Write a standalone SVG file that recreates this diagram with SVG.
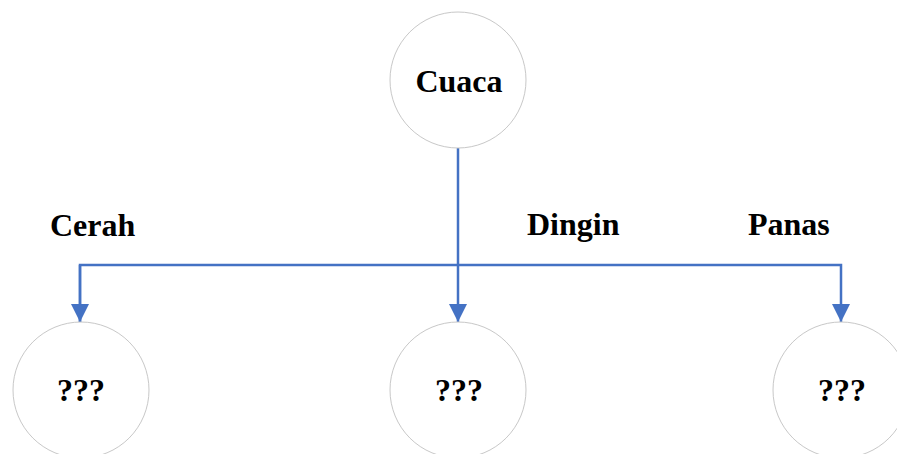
<svg xmlns="http://www.w3.org/2000/svg" width="897" height="454" viewBox="0 0 897 454">
  <style>
    .node { fill: #ffffff; stroke: #c8c8c8; stroke-width: 1; }
    .label { font-family: "Liberation Serif", "Times New Roman", serif; font-weight: bold; font-size: 32px; fill: #000000; }
    .mid { text-anchor: middle; }
    .edge { fill: none; stroke: #4472c4; stroke-width: 2.5; }
  </style>
  <defs>
    <marker id="arrow" viewBox="0 0 18 19" refX="18" refY="9" markerWidth="18" markerHeight="19" markerUnits="userSpaceOnUse" orient="auto">
      <path d="M0,0 L18,9 L0,18 Z" fill="#4472c4"/>
    </marker>
  </defs>

  <rect width="897" height="454" fill="#ffffff"/>

  <!-- connectors -->
  <g id="connectors">
    <path class="edge" d="M458,148 V265"/>
    <path class="edge" d="M80,322 V265 H841 V322" marker-end="url(#arrow)"/>
    <path class="edge" d="M80,265 V322" marker-end="url(#arrow)"/>
    <path class="edge" d="M458,265 V322" marker-end="url(#arrow)"/>
  </g>

  <!-- branch labels -->
  <g id="branch-labels">
    <text class="label" x="50" y="236">Cerah</text>
    <text class="label" x="527" y="235">Dingin</text>
    <text class="label" x="748" y="235">Panas</text>
  </g>

  <!-- root -->
  <g id="node-cuaca">
    <circle class="node" cx="458" cy="80" r="68"/>
    <text class="label mid" x="459" y="92">Cuaca</text>
  </g>

  <!-- leaves -->
  <g id="node-cerah">
    <circle class="node" cx="81" cy="390" r="68"/>
    <text class="label mid" x="81" y="401">???</text>
  </g>
  <g id="node-dingin">
    <circle class="node" cx="458" cy="390" r="68"/>
    <text class="label mid" x="459" y="401">???</text>
  </g>
  <g id="node-panas">
    <circle class="node" cx="841" cy="390" r="68"/>
    <text class="label mid" x="842" y="401">???</text>
  </g>
</svg>
